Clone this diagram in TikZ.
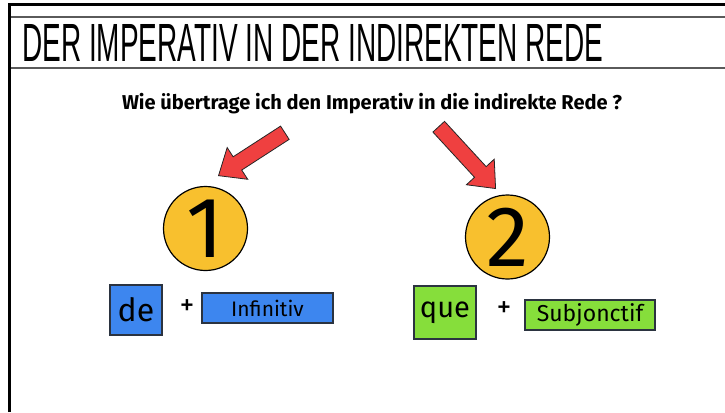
\documentclass[tikz,border=0pt]{standalone}
\usepackage{fontspec}
\setmainfont{Fira Sans}
\newfontfamily\titlefont{Liberation Sans}
\usetikzlibrary{shapes.arrows}
\definecolor{sunyellow}{HTML}{F8C02E}
\definecolor{blueface}{HTML}{3D86EF}
\definecolor{greenface}{HTML}{86DE3B}
\definecolor{redface}{HTML}{EF4040}
\definecolor{cardedge}{HTML}{2B3340}
\definecolor{bandgray}{HTML}{5A5A5A}
\begin{document}
\begin{tikzpicture}
[x=1pt,y=-1pt,
  numberdecorate/.style={shape=circle,minimum size=84pt,inner sep=0pt,draw=black,line width=1.2pt,fill=sunyellow},%
  carddecorate/.style={shape=rectangle,inner sep=0pt,draw=cardedge,line width=1.3pt},%
  arrowdecorate/.style={shape=single arrow,inner sep=7.5pt,single arrow head extend=11pt,single arrow tip angle=80,draw=black!85,line width=0.8pt,fill=redface},%
  plusdecorate/.style={inner sep=0pt,font=\titlefont\bfseries\fontsize{22}{22}\selectfont}]
\useasboundingbox[fill=white] (0,0) rectangle (725,412);
%% frame and title band
\draw[line width=3pt] (9.5,412) -- (9.5,5) -- (725,5);
\draw[bandgray,line width=1.5pt] (11,17) -- (725,17);
\draw[bandgray,line width=1.5pt] (11,68) -- (725,68);
\node (title) at (22,62) [anchor=south west,inner sep=0pt]
  {\resizebox{581pt}{37pt}{\titlefont DER IMPERATIV IN DER INDIREKTEN REDE}};
%% question
\node (question) at (372,104) [inner sep=0pt]
  {\resizebox{500pt}{!}{\fontseries{sb}\selectfont Wie übertrage ich den Imperativ in die indirekte Rede ?}};
%% arrows
\node (arrowone) at (218,176) [arrowdecorate,anchor=tip,rotate=212.9,minimum height=79pt] {};
\node (arrowtwo) at (496,189) [arrowdecorate,anchor=tip,rotate=-47.4,minimum height=84pt] {};
%% numbers
\foreach \nodename/\x/\y/\num in {one/205.5/228.5/1, two/507.5/237/2} {
  \node (\nodename) at (\x,\y) [numberdecorate,font=\fontsize{86}{86}\selectfont] {\num};
}
%% cards
\foreach \nodename/\x/\y/\w/\h/\col/\fs/\txt in
  {de/136/310/52/50/blueface/32/de, infinitiv/267.5/308/131/30/blueface/21/Infinitiv,
   que/445/312.5/62/53/greenface/29/que, subjonctif/590/315/130/30/greenface/23/Subjonctif} {
  \node (\nodename) at (\x,\y) [carddecorate,minimum width=\w,minimum height=\h,fill=\col,font=\fontsize{\fs}{\fs}\selectfont] {\txt};
}
\node (plusone) at (187,306) [plusdecorate] {+};
\node (plustwo) at (504,308) [plusdecorate] {+};
\end{tikzpicture}
\end{document}
